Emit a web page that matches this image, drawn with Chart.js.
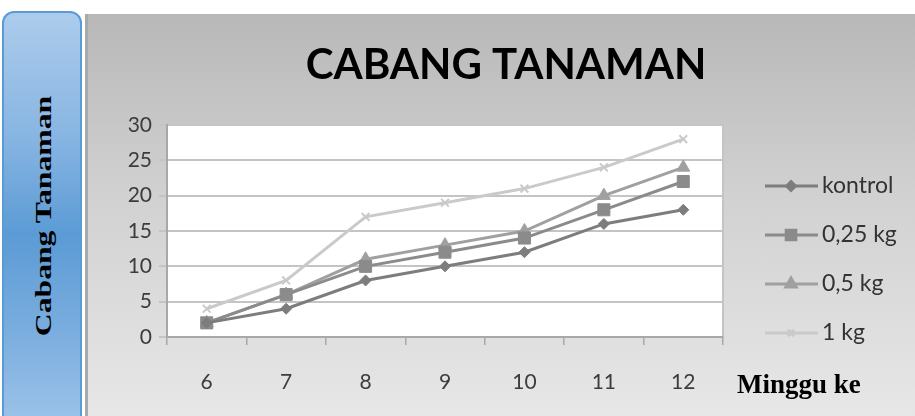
<!DOCTYPE html>
<html>
<head>
<meta charset="utf-8">
<script src="https://cdn.jsdelivr.net/npm/chart.js@4"></script>
<style>
html,body{margin:0;padding:0;width:915px;height:416px;overflow:hidden;background:#fff;}
#side{position:absolute;left:2px;top:11px;width:80px;height:430px;border:2px solid #5b9bd5;border-radius:12px;
  background:linear-gradient(to bottom,#acccec 0%,#86b4e2 30%,#5b9bd5 52%,#7fb0e0 78%,#a2c7eb 100%);box-sizing:border-box;}
#sideText{position:absolute;left:43px;top:216px;transform:translate(-50%,-50%) rotate(-90deg) scaleX(1.32);
  font:bold 24px "Liberation Serif","DejaVu Serif",serif;white-space:nowrap;color:#000;}
#panel{position:absolute;left:85px;top:14px;width:830px;height:402px;
  background:linear-gradient(to bottom,#b8b8b8 0%,#d1d1d1 45%,#e7e7e7 100%);border-left:3px solid #a9a9a9;box-sizing:border-box;}
#xtitle{position:absolute;left:737px;top:369px;font:bold 27px "Liberation Serif","DejaVu Serif",serif;color:#000;white-space:nowrap;}
#c{position:absolute;left:0;top:0;}
</style>
</head>
<body>
<div id="side"></div>
<div id="sideText">Cabang Tanaman</div>
<div id="panel"></div>
<canvas id="c" width="915" height="416"></canvas>
<div id="xtitle">Minggu ke</div>
<script>
const weeks = ['6', '7', '8', '9', '10', '11', '12'];
const kontrol = [2, 4, 8, 10, 12, 16, 18];
const kg025 = [2, 6, 10, 12, 14, 18, 22];
const kg05 = [2, 6, 11, 13, 15, 20, 24];
const kg1 = [4, 8, 17, 19, 21, 24, 28];
const seriesNames = ['kontrol', '0,25 kg', '0,5 kg', '1 kg'];
const chartTitle = 'CABANG TANAMAN';

const colors = ['#7d7d7d', '#8b8b8b', '#a0a0a0', '#cacaca'];
const styles = ['rectRot', 'rect', 'triangle', 'crossRot'];
const radii = [5.5, 8.5, 7.5, 5.5];
const values = [kontrol, kg025, kg05, kg1];
const SANS = 'Lato, "Open Sans", sans-serif';

const plotBg = {
  id: 'plotBg',
  beforeDraw(chart) {
    const {ctx, chartArea: a} = chart;
    ctx.save();
    ctx.fillStyle = '#ffffff';
    ctx.fillRect(a.left, a.top, a.right - a.left, a.bottom - a.top);
    ctx.strokeStyle = '#c4c4c4';
    ctx.lineWidth = 2;
    ctx.beginPath();
    ctx.moveTo(a.right, a.top);
    ctx.lineTo(a.right, a.bottom);
    ctx.stroke();
    ctx.restore();
  }
};

const customLegend = {
  id: 'customLegend',
  afterDraw(chart) {
    const ctx = chart.ctx;
    ctx.save();
    chart.data.datasets.forEach((ds, i) => {
      const y = 186 + i * 49;
      ctx.strokeStyle = ds.borderColor;
      ctx.lineWidth = 3;
      ctx.beginPath();
      ctx.moveTo(765, y);
      ctx.lineTo(818, y);
      ctx.stroke();
      ctx.fillStyle = ds.borderColor;
      ctx.strokeStyle = ds.borderColor;
      Chart.helpers.drawPoint(ctx, {pointStyle: ds.pointStyle, radius: ds.pointRadius * 0.8, rotation: 0, borderWidth: 2}, 791, y);
      ctx.fillStyle = '#333333';
      ctx.font = '23px ' + SANS;
      ctx.textBaseline = 'middle';
      ctx.textAlign = 'left';
      ctx.fillText(ds.label, 822, y);
    });
    ctx.restore();
  }
};

new Chart(document.getElementById('c'), {
  type: 'line',
  data: {
    labels: weeks,
    datasets: seriesNames.map((name, i) => ({
      label: name,
      data: values[i],
      borderColor: colors[i],
      backgroundColor: colors[i],
      pointBackgroundColor: colors[i],
      pointBorderColor: colors[i],
      borderWidth: 3,
      pointStyle: styles[i],
      pointRadius: radii[i],
      pointBorderWidth: i === 3 ? 2 : 1,
      tension: 0,
      fill: false
    }))
  },
  options: {
    responsive: false,
    devicePixelRatio: 1,
    animation: false,
    layout: {padding: {left: 97, right: 0, top: 14, bottom: 23}},
    plugins: {
      legend: {display: false},
      tooltip: {enabled: false},
      title: {
        display: true,
        text: chartTitle,
        color: '#000000',
        font: {family: SANS, size: 42, weight: 'bold', lineHeight: 1.2},
        padding: {top: 26, bottom: 34.6}
      }
    },
    scales: {
      x: {
        type: 'category',
        offset: true,
        afterFit(s) { s.height = 56; },
        grid: {offset: true, drawOnChartArea: false, drawTicks: true, tickLength: 8, color: '#a8a8a8', lineWidth: 1.5},
        border: {display: true, color: '#a8a8a8', width: 2},
        ticks: {color: '#3c3c3c', font: {family: SANS, size: 21}, padding: 25}
      },
      y: {
        min: 0,
        max: 30,
        afterFit(s) { s.width = 70; },
        grid: {color: '#c4c4c4', lineWidth: 2, drawTicks: true, tickLength: 8},
        border: {display: true, color: '#a8a8a8', width: 2},
        ticks: {stepSize: 5, color: '#3c3c3c', font: {family: SANS, size: 21}, padding: 7}
      },
      legendSpace: {
        type: 'linear',
        position: 'right',
        min: 0,
        max: 1,
        afterFit(s) { s.width = 192; },
        grid: {display: false},
        border: {display: false},
        ticks: {display: false}
      }
    }
  },
  plugins: [plotBg, customLegend]
});
</script>
</body>
</html>
